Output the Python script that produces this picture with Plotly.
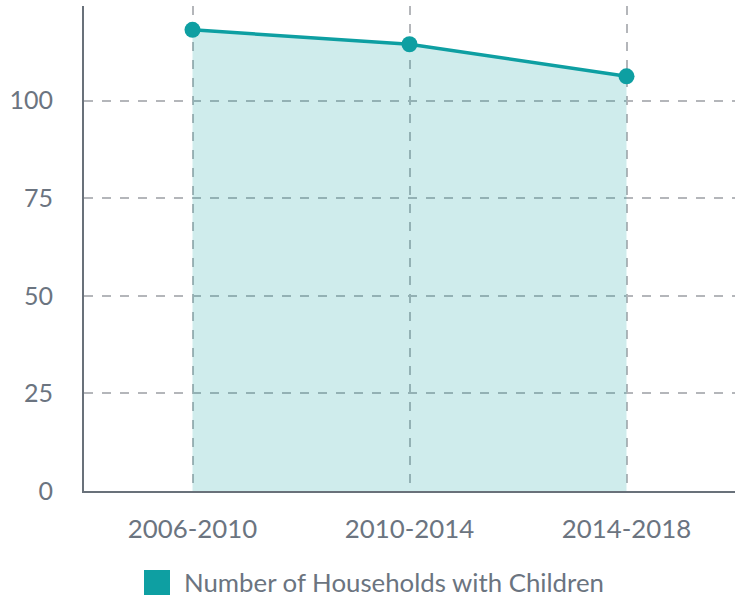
import plotly.graph_objects as go

periods = ["2006-2010", "2010-2014", "2014-2018"]
households = [118.1, 114.4, 106.2]
series_name = "Number of Households with Children"
y_ticks = [0, 25, 50, 75, 100]

teal = "#0e9fa2"
fill = "rgba(14,159,162,0.2)"
text_col = "#6b7480"
axis_col = "#69717a"
grid_col = "#b4b6ba"

L, R, T, B = 84, 5, 6, 107
W, H = 740, 598
pw, ph = W - L - R, H - T - B


def px_x(px):
    return (px - L) / pw


def px_y(py):
    return (H - B - py) / ph


fig = go.Figure()
fig.add_trace(go.Scatter(
    x=periods, y=households, mode="lines+markers", name=series_name,
    line=dict(color=teal, width=3.5),
    marker=dict(color=teal, size=16),
    fill="tozeroy", fillcolor=fill,
    showlegend=False, hoverinfo="skip",
))

# custom legend (square swatch + label)
fig.add_shape(type="rect", xref="paper", yref="paper",
              x0=px_x(144), x1=px_x(170), y0=px_y(595), y1=px_y(570),
              fillcolor=teal, line=dict(width=0))
fig.add_annotation(text=series_name, xref="paper", yref="paper",
                   x=px_x(182), y=px_y(582), xanchor="left", yanchor="middle",
                   showarrow=False, font=dict(size=25.8, color=text_col))

fig.update_layout(
    width=W, height=H,
    margin=dict(l=L, r=R, t=T, b=B),
    paper_bgcolor="white", plot_bgcolor="white",
    font=dict(family="Lato", size=25, color=text_col),
    showlegend=False,
)
fig.update_xaxes(
    type="category", range=[-0.5, 2.5],
    showline=True, linecolor=axis_col, linewidth=2,
    showgrid=True, gridcolor=grid_col, griddash="dash", gridwidth=1.5,
    ticks="", ticklabelstandoff=14, zeroline=False,
    tickfont=dict(size=25.8),
)
fig.update_yaxes(
    range=[0, 124.2], tickvals=y_ticks,
    showline=True, linecolor=axis_col, linewidth=2,
    showgrid=True, gridcolor=grid_col, griddash="dash", gridwidth=1.5,
    ticks="", ticklabelstandoff=24, zeroline=False,
)
fig.write_html("out.html")
